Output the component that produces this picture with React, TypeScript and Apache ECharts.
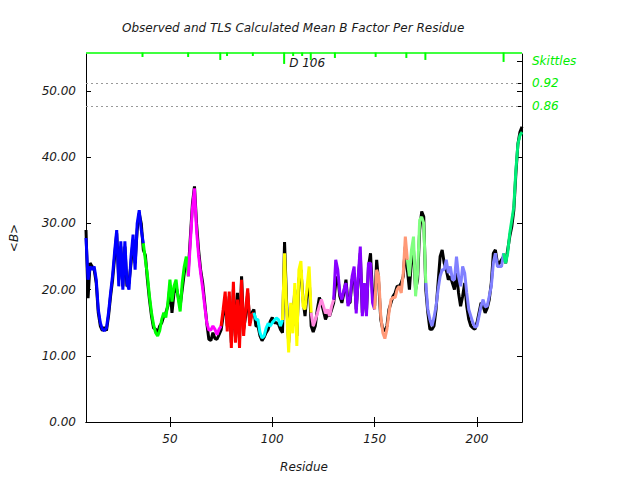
import React, { useEffect, useRef } from 'react';
import * as echarts from 'echarts';

const FIRST_RESIDUE = 9;
const LAST_RESIDUE = 222;

// TLS calculated mean B per residue (residues 9..222)
const calcB = [
  27.8, 21.5, 23.5, 23, 23.5, 21.5, 17, 15, 14, 13.8,
  14.2, 16.5, 19.5, 22.2, 25.8, 29, 20.5, 27.3, 20, 27.3,
  21, 20, 25, 28.3, 23, 30, 32, 29, 27, 24.5,
  22.2, 19, 16.5, 14.7, 13.5, 13, 13.8, 15.5, 16.5, 15.8,
  18, 21.5, 18.2, 20.5, 21.5, 18.7, 16.7, 21, 23.5, 25,
  22, 27.3, 32.3, 35.3, 29, 25.2, 22.5, 20.2, 17.5, 15,
  13.9, 13.9, 14.5, 14, 13.2, 14, 14.5, 17, 19.7, 13.7,
  19.7, 11.2, 21.2, 12, 18.5, 11.2, 21.5, 13, 17, 20.2,
  14.5, 16.2, 16.5, 15.5, 15.5, 13.5, 12.7, 13, 14.2, 14.9,
  14.5, 15, 15.4, 15.7, 15.5, 14.5, 15.4, 25.5, 17, 10.5,
  18, 13.4, 21, 11.5, 23, 24.3, 17.5, 17, 20.5, 23.5,
  16.5, 14.5, 15.4, 16.4, 17.5, 18.5, 17.5, 16.4, 17, 16,
  17.5, 18.5, 24.5, 23, 19.5, 18.5, 20, 21, 17.5, 18.5,
  22, 23.5, 16.4, 22, 26.5, 16, 21, 16, 24, 24,
  18, 17, 23, 22, 16, 13.5, 12.6, 14, 16.5, 18.5,
  18.8, 18.8, 20, 20.5, 19.5, 22.5, 28, 24.5, 22, 26,
  28, 19, 22.5, 30.5, 31, 30, 21, 17, 15.5, 14.5,
  15.8, 17.5, 20, 22, 23, 23, 24.5, 22.5, 23.5, 21.5,
  21.5, 25, 22, 20.5, 23.5, 22.5, 19.5, 17, 16, 15,
  14.3, 14.5, 16, 17.5, 18.5, 17.4, 17.5, 19, 20.5, 24,
  25.5, 23.5, 23.5, 23.5, 25.5, 24, 25.5, 28.5, 30.5, 32.5,
  38, 42, 43.3, 43.8,
];

// Observed mean B per residue (residues 9..222)
const obsB = [
  29, 18.7, 24, 23.5, 23, 21, 16.5, 14.5, 13.8, 14.3,
  13.8, 16, 19, 21.5, 25, 28.5, 21.5, 26.5, 20.5, 26.5,
  20.5, 21, 24, 27.5, 24, 29, 31.5, 30, 26, 25.2,
  21.5, 18.5, 16, 14.2, 14, 13.5, 14.5, 15, 16, 16.5,
  17.5, 20.5, 16.5, 19.5, 20.5, 19, 17.5, 20, 22.5, 24.5,
  23, 28, 33, 35.6, 30, 26, 23, 21, 18, 15,
  12.5, 12.3, 13.5, 12.6, 12.5, 13.2, 13.9, 16, 18.5, 14.5,
  19, 12, 20, 13, 19.5, 12.5, 22, 14, 16, 19.5,
  15, 16.5, 17, 14.5, 14.5, 13, 12.3, 12.8, 13.5, 14,
  15.2, 15.8, 15, 15, 14.8, 14, 13.5, 27.2, 18, 12,
  17, 14.5, 20, 13, 21.5, 23, 18.5, 16, 19.5, 22,
  14.5, 13.6, 14.5, 17, 18.8, 18, 16.8, 15.5, 16.3, 16,
  17, 18, 21, 22, 19, 18, 19.5, 21.5, 18, 18,
  21.5, 22.5, 17, 21.5, 25.5, 16.5, 20.5, 16.5, 23.5, 25.5,
  19, 17.5, 24.5, 21, 15.5, 14, 13.8, 14.5, 17, 18,
  19, 19.5, 20.5, 20.5, 21, 22, 26.5, 23, 20, 24.5,
  26, 20, 21.5, 29, 31.8, 31, 20, 16.5, 14, 14,
  14.5, 17, 21, 25, 26, 24, 23, 21.5, 22, 21,
  20, 22.5, 19.5, 17.5, 19, 21, 17.5, 15.5, 14.5, 14.2,
  14, 15, 16.5, 18, 17.5, 16.5, 17.2, 18.5, 21, 25.5,
  26, 24, 24, 24.5, 25, 24, 26, 28, 29.5, 32,
  37.5, 42, 43.8, 44.6,
];

// TLS segments (first residue of each) and their colours
const segmentStarts = [9, 37, 59, 75, 91, 105, 119, 130, 150, 166, 175, 213];
const segmentColors = [
  '#0000ff', '#00ff00', '#ff00ff', '#ff0000', '#00ffff', '#ffff00',
  '#ff88dd', '#8800ff', '#ff9977', '#80ff80', '#8080ff', '#00ee77',
];

// Skittles marks along the top
const topMarkResidues = [36.6, 58.9, 74.6, 77.9, 90.5, 105.8, 110.2, 114.6, 118.8, 130.6, 150.5, 165.5, 174.8, 213];
const topMarkDepths = [0.45, 0.45, 0.9, 0.3, 0.3, 1.5, 0.3, 0.3, 0.9, 0.6, 0.45, 0.6, 0.9, 1.2];
const topMarkLabels = ['', '', '', '', '', 'D 106', '', '', '', '', '', '', '', ''];

const skittleLevels = [54.53, 51.16, 47.69];
const skittleLabels = ['Skittles', '0.92', '0.86'];
const dottedLevels = [51.16, 47.69];

const yTicks = [0, 10, 20, 30, 40, 50];
const xTicks = [50, 100, 150, 200];
const Y_MAX = 55.6;

const FONT = 'DejaVu Sans';
const TEXT = '#1a1a1a';
const SKITTLE_GREEN = '#00ee00';

export default function App() {
  const ref = useRef<HTMLDivElement>(null);

  useEffect(() => {
    document.body.style.margin = '0';
    if (!ref.current) return;
    const chart = echarts.init(ref.current, undefined, { renderer: 'svg' });

    const obsData = obsB.map((v, i) => [FIRST_RESIDUE + i, v]);
    const segSeries = segmentStarts.map((start, k) => {
      const end = k + 1 < segmentStarts.length ? segmentStarts[k + 1] : LAST_RESIDUE;
      const data: number[][] = [];
      for (let r = start; r <= end; r++) data.push([r, calcB[r - FIRST_RESIDUE]]);
      return {
        type: 'line',
        name: 'calc' + k,
        data,
        symbol: 'none',
        lineStyle: { color: segmentColors[k], width: 3 },
        z: 3,
      };
    });

    const axisLineStyle = { lineStyle: { color: '#000', width: 1 } };

    chart.setOption({
      animation: false,
      title: {
        text: 'Observed and TLS Calculated Mean B Factor Per Residue',
        left: 122,
        top: 22,
        padding: 0,
        textStyle: { fontFamily: FONT, fontStyle: 'italic', fontWeight: 'normal', fontSize: 12, color: TEXT },
      },
      grid: { left: 85, right: 118, top: 54, bottom: 58, containLabel: false },
      xAxis: [
        {
          type: 'value', min: FIRST_RESIDUE, max: LAST_RESIDUE, position: 'bottom',
          axisLine: axisLineStyle,
          axisTick: { inside: true, length: 5, customValues: xTicks, lineStyle: { color: '#000' } },
          axisLabel: { customValues: xTicks, margin: 11, fontFamily: FONT, fontStyle: 'italic', fontSize: 12, color: TEXT },
          splitLine: { show: false },
          name: 'Residue', nameLocation: 'middle', nameGap: 39,
          nameTextStyle: { fontFamily: FONT, fontStyle: 'italic', fontSize: 12, color: TEXT },
        },
        {
          type: 'value', min: FIRST_RESIDUE, max: LAST_RESIDUE, position: 'top',
          axisLine: axisLineStyle,
          axisTick: { inside: true, length: 5, customValues: xTicks, lineStyle: { color: '#000' } },
          axisLabel: { show: false },
          splitLine: { show: false },
        },
      ],
      yAxis: [
        {
          type: 'value', min: 0, max: Y_MAX, position: 'left',
          axisLine: axisLineStyle,
          axisTick: { inside: true, length: 5, customValues: yTicks, lineStyle: { color: '#000' } },
          axisLabel: {
            customValues: yTicks, margin: 10, formatter: (v: number) => v.toFixed(2),
            fontFamily: FONT, fontStyle: 'italic', fontSize: 12, color: TEXT,
          },
          splitLine: { show: false },
          name: '<B>', nameLocation: 'middle', nameGap: 66, nameRotate: 90,
          nameTextStyle: { fontFamily: FONT, fontStyle: 'italic', fontSize: 12, color: TEXT },
        },
        {
          type: 'value', min: 0, max: Y_MAX, position: 'right',
          axisLine: axisLineStyle,
          axisTick: { inside: true, length: 5, customValues: [...yTicks, ...skittleLevels], lineStyle: { color: '#000' } },
          axisLabel: {
            customValues: skittleLevels, margin: 10,
            formatter: (v: number) => {
              let best = 0;
              skittleLevels.forEach((s, i) => { if (Math.abs(s - v) < Math.abs(skittleLevels[best] - v)) best = i; });
              return skittleLabels[best];
            },
            fontFamily: FONT, fontStyle: 'italic', fontSize: 12, color: SKITTLE_GREEN,
          },
          splitLine: { show: false },
        },
      ],
      series: [
        {
          type: 'line',
          name: 'observed',
          data: obsData,
          symbol: 'none',
          lineStyle: { color: '#000', width: 3 },
          z: 2,
          markLine: {
            silent: true,
            symbol: 'none',
            label: { show: false },
            lineStyle: { color: '#999999', type: [2, 3], width: 1 },
            data: dottedLevels.map((v) => ({ yAxis: v })),
          },
        },
        ...segSeries,
        {
          type: 'custom',
          name: 'skittles',
          clip: false,
          z: 5,
          data: topMarkResidues.map((r, i) => [r, topMarkDepths[i]]),
          renderItem: (params: any, api: any) => {
            const cs = params.coordSys;
            const x = api.coord([api.value(0), 0])[0];
            const depth = api.size([0, api.value(1)])[1];
            const children: any[] = [];
            if (params.dataIndex === 0) {
              children.push({
                type: 'line',
                shape: { x1: cs.x, y1: cs.y - 1, x2: cs.x + cs.width, y2: cs.y - 1 },
                style: { stroke: '#00ff00', lineWidth: 1.5 },
              });
            }
            children.push({
              type: 'rect',
              shape: { x: x - 1, y: cs.y - 1.5, width: 2, height: depth + 1.5 },
              style: { fill: '#00ff00' },
            });
            const label = topMarkLabels[params.dataIndex];
            if (label) {
              children.push({
                type: 'text',
                x: x + 5,
                y: cs.y + 3,
                style: {
                  text: label, fill: TEXT, fontSize: 12, fontStyle: 'italic', fontFamily: FONT,
                  verticalAlign: 'top', align: 'left',
                },
              });
            }
            return { type: 'group', children };
          },
        },
      ],
    });

    return () => chart.dispose();
  }, []);

  return <div ref={ref} style={{ width: 640, height: 480 }} />;
}
